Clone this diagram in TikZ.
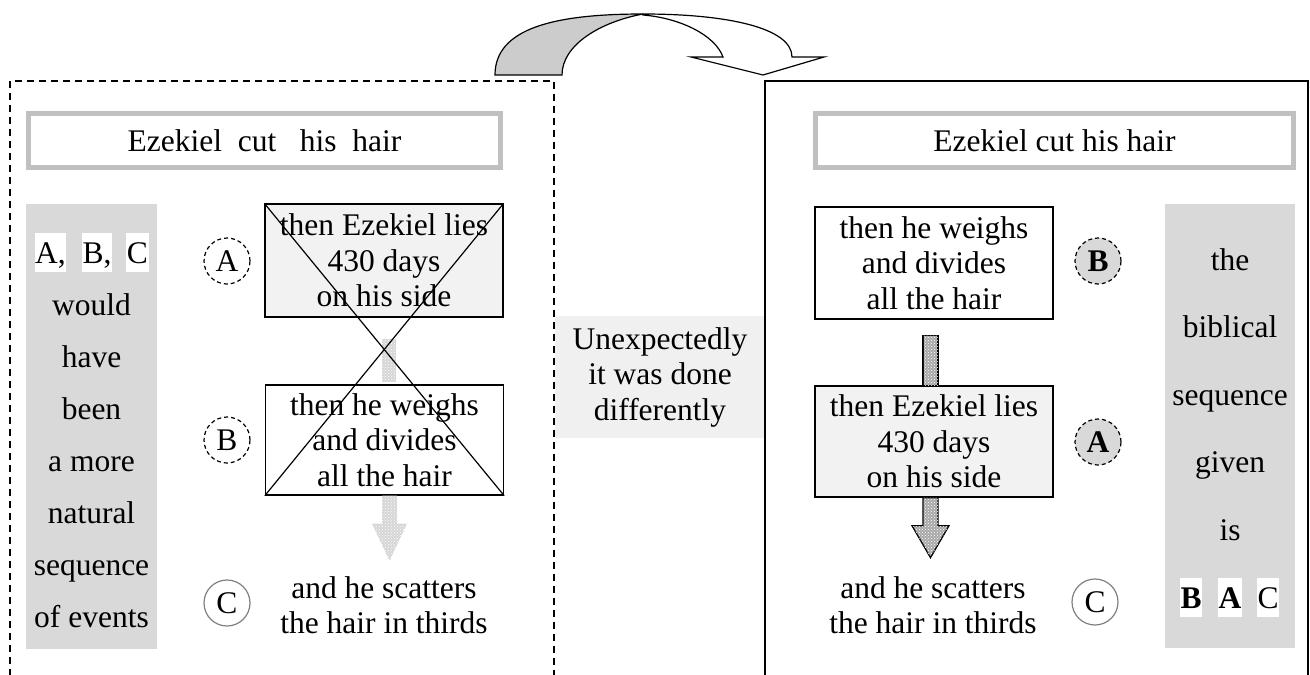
\documentclass[tikz,border=0pt]{standalone}
\usepackage{fontspec}
\setmainfont{Liberation Serif}
\usetikzlibrary{patterns}
\definecolor{colgray}{HTML}{D9D9D9}
\definecolor{titlegray}{HTML}{C0C0C0}
\definecolor{boxfill}{HTML}{F2F2F2}
\definecolor{midfill}{HTML}{F0F0F0}
\definecolor{curvegray}{HTML}{CCCCCC}
\definecolor{arrowgray}{HTML}{A8A8A8}
\definecolor{fadegray}{HTML}{D6D6D6}
\definecolor{circline}{HTML}{808080}
\begin{document}
\begin{tikzpicture}[x=1pt,y=-1pt,
  every node/.style={font=\fontsize{31.5}{35.5}\selectfont, inner sep=0pt},
  frame/.style={line width=1.5pt},
  titlebox/.style={draw=titlegray, line width=5pt, minimum height=54pt, fill=white},
  evbox/.style={draw=black, line width=1.3pt, minimum width=238pt, align=center},
  colbg/.style={fill=colgray},
  colword/.style={anchor=base},
  letterbox/.style={fill=white, anchor=base, inner xsep=0.5pt, inner ysep=0pt, text height=30pt, text depth=8.5pt},
  circ/.style={circle, minimum size=46pt, line width=1.2pt},
  dashcirc/.style={circ, draw=black, dash pattern=on 4pt off 3pt},
  solidcirc/.style={circ, draw=circline, fill=white},
  fatarrow/.style={draw=black, line width=1.3pt, fill=arrowgray, postaction={pattern=crosshatch dots, pattern color=white}},
  fadearrow/.style={fill=fadegray, postaction={pattern=crosshatch dots, pattern color=white}},
  crossline/.style={line width=1.2pt},
  curvearrow/.style={draw=black, line width=1.2pt}
]
\useasboundingbox (0,0) rectangle (1310,675);
\clip (0,0) rectangle (1310,675);

% ---------- curved arrow at the top ----------
\path[curvearrow, fill=white] (643,14) .. controls (728,14) and (792,28) .. (792,57)
  -- (824,57) -- (763,75) -- (691,57) -- (723,57)
  .. controls (715,35) and (680,18) .. (643,15) -- cycle;
\path[curvearrow, fill=curvegray] (495,75) .. controls (495,28) and (555,14) .. (643,14)
  .. controls (600,22) and (562,45) .. (562,75) -- cycle;

% ---------- middle box ----------
\node[fill=midfill, minimum width=210pt, minimum height=122pt, align=center] (mid) at (660,377)
  {Unexpectedly\\it was done\\differently};

% ---------- frames ----------
\draw[frame, dash pattern=on 7pt off 5pt] (10,676) -- (10,81) -- (554,81) -- (554,676);
\draw[frame] (765,676) -- (765,81) -- (1308,81) -- (1308,676);

% ---------- left panel ----------
\node[titlebox, minimum width=472pt] (LT) at (264.5,140.5) {Ezekiel\ \ cut\ \ \ his\ \ hair};
\fill[colbg] (26,204) rectangle (157,649);
\node[letterbox] (La) at (50.5,263) {A,};
\node[letterbox] (Lb) at (97,263) {B,};
\node[letterbox] (Lc) at (137.5,263) {C};
\node[colword] (L1) at (91.5,315) {would};
\node[colword] (L2) at (91.5,367) {have};
\node[colword] (L3) at (91.5,419) {been};
\node[colword] (L4) at (91.5,471) {a more};
\node[colword] (L5) at (91.5,523) {natural};
\node[colword] (L6) at (91.5,575) {sequence};
\node[colword] (L7) at (91.5,627) {of events};

\node[dashcirc] (LcA) at (227,261) {A};
\node[dashcirc] (LcB) at (227,440) {B};
\node[solidcirc] (LcC) at (227,603) {C};

\node[evbox, fill=boxfill, minimum height=113pt] (LA) at (384,260.5) {then Ezekiel lies\\430 days\\on his side};
\node[evbox, fill=white, minimum height=110pt] (LB) at (384.5,440) {then he weighs\\and divides\\all the hair};
\node[align=center] (LC) at (384,605) {and he scatters\\the hair in thirds};

\path[fadearrow] ([xshift=-2pt,yshift=-21pt]LA.south) rectangle ([xshift=11pt,yshift=2pt]LB.north);
\path[fadearrow] ([xshift=-2.5pt]LB.south) -- ++(0,28) -- ++(-10,0) -- ++(17.5,37)
  -- ++(17.5,-37) -- ++(-10,0) -- ([xshift=12.5pt]LB.south) -- cycle;

\draw[crossline] (LA.north west) -- (LB.south east);
\draw[crossline] (LA.north east) -- (LB.south west);

% ---------- right panel ----------
\node[titlebox, minimum width=478pt] (RT) at (1054.5,140.5) {Ezekiel cut his hair};

\node[evbox, fill=white, minimum height=112pt] (RB) at (934,263) {then he weighs\\and divides\\all the hair};
\node[evbox, fill=boxfill, minimum height=111pt] (RA) at (934,441.5) {then Ezekiel lies\\430 days\\on his side};
\node[align=center] (RC) at (933,605) {and he scatters\\the hair in thirds};

\draw[fatarrow] ([xshift=-11pt,yshift=-16pt]RB.south) rectangle ([xshift=4pt]RA.north);
\draw[fatarrow] ([xshift=-11pt]RA.south) -- ++(0,28) -- ++(-11,0) -- ++(18.5,32)
  -- ++(18.5,-32) -- ++(-11,0) -- ([xshift=4pt]RA.south) -- cycle;

\node[dashcirc, fill=colgray] (RcB) at (1098,261) {\textbf{B}};
\node[dashcirc, fill=colgray] (RcA) at (1098,442) {\textbf{A}};
\node[solidcirc] (RcC) at (1095,602) {C};

\fill[colbg] (1165,204) rectangle (1295,648);
\node[colword] (R1) at (1230,270) {the};
\node[colword] (R2) at (1230,337.6) {biblical};
\node[colword] (R3) at (1230,405.2) {sequence};
\node[colword] (R4) at (1230,472.8) {given};
\node[colword] (R5) at (1230,540.4) {is};
\node[letterbox] (Rb) at (1191,608) {\textbf{B}};
\node[letterbox] (Ra) at (1230,608) {\textbf{A}};
\node[letterbox] (Rc) at (1268,608) {C};
\end{tikzpicture}
\end{document}
